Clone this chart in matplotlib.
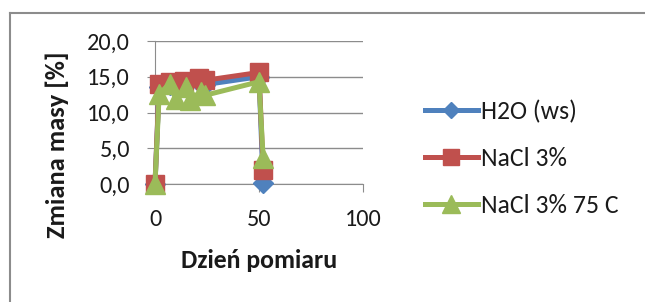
import matplotlib
matplotlib.use("Agg")
import matplotlib.pyplot as plt
from matplotlib.lines import Line2D

plt.rcParams['font.family'] = ['Carlito', 'Lato', 'DejaVu Sans']

# Data
days_h2o = [0, 2, 7, 14, 21, 24, 50, 52]
h2o = [0.0, 13.6, 13.9, 14.1, 14.3, 13.9, 15.0, 0.1]
days_nacl = [0, 2, 7, 14, 21, 24, 50, 52]
nacl = [0.0, 14.0, 14.2, 14.4, 14.8, 14.5, 15.6, 2.0]
days_nacl75 = [0, 2, 7, 10, 15, 17, 22, 24, 50, 52]
nacl75 = [0.0, 12.6, 14.0, 11.9, 13.6, 11.8, 12.9, 12.4, 14.3, 3.6]

labels = ['H2O (ws)', 'NaCl 3%', 'NaCl 3% 75 C']
yticks = [0, 5, 10, 15, 20]
xticks = [0, 50, 100]

fig = plt.figure(figsize=(6.45, 3.02), dpi=100)
ax = fig.add_axes([155/645, 118/302, 208/645, 143/302])

blue, red, green = '#4F81BD', '#C0504D', '#9BBB59'
lw = 3.6
ax.plot(days_h2o, h2o, color=blue, lw=lw, marker='D', ms=10, clip_on=False, zorder=3, label=labels[0])
ax.plot(days_nacl, nacl, color=red, lw=lw, marker='s', ms=13.5, clip_on=False, zorder=4, label=labels[1])
ax.plot(days_nacl75, nacl75, color=green, lw=lw, marker='^', ms=15, clip_on=False, zorder=5, label=labels[2])

ax.set_xlim(0, 100)
ax.set_ylim(0, 20)
ax.set_yticks(yticks)
ax.set_yticklabels([f"{v:.1f}".replace('.', ',') for v in yticks])
ax.set_xticks(xticks)
ax.grid(axis='y', color='#8c8c8c', lw=1)
ax.set_axisbelow(True)
for s in ['top', 'right']:
    ax.spines[s].set_visible(False)
for s in ['left', 'bottom']:
    ax.spines[s].set_color('#8c8c8c')
ax.tick_params(axis='x', length=6, color='#8c8c8c', labelsize=17.5, pad=12, labelcolor='#1a1a1a')
ax.tick_params(axis='y', length=6, color='#8c8c8c', labelsize=17.5, pad=12, labelcolor='#1a1a1a')
ax.set_xlabel('Dzień pomiaru', fontsize=18.5, fontweight='bold', labelpad=14, color='#1a1a1a')
ax.set_ylabel('Zmiana masy [%]', fontsize=19, fontweight='bold', color='#1a1a1a')
ax.yaxis.set_label_coords((69 - 155) / 208, (184 - 145) / 143)

leg = fig.legend(loc='upper left', bbox_to_anchor=(425/645, 1 - 100/302), frameon=False,
                 fontsize=18.5, handlelength=2.05, handletextpad=0.12, labelspacing=0.93,
                 borderaxespad=0, borderpad=0, markerscale=0.85)
for t in leg.get_texts():
    t.set_color('#1a1a1a')

# outer border
fig.add_artist(Line2D([10/645, 10/645], [0, 1 - 13/302], color='#8c8c8c', lw=1.5))
fig.add_artist(Line2D([10/645, 1], [1 - 13/302, 1 - 13/302], color='#8c8c8c', lw=1.5))

fig.savefig('out.png', dpi=100)
